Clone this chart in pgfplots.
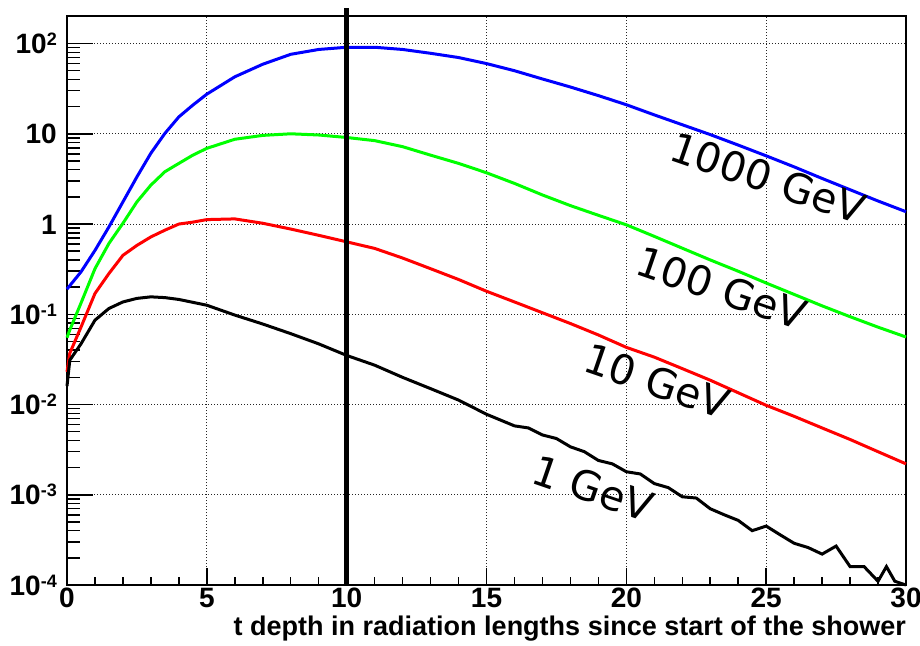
\documentclass[border=0pt]{standalone}
\usepackage{fontspec}
\setmainfont{Liberation Sans}
\newfontfamily\djv{DejaVu Sans}
\usepackage{pgfplots}
\pgfplotsset{compat=1.18}
\newcommand\tsup[1]{\raisebox{8pt}{\fontsize{18}{18}\selectfont #1}}
\definecolor{rblue}{RGB}{0,0,255}
\definecolor{rgreen}{RGB}{0,255,0}
\definecolor{rred}{RGB}{255,0,0}
\begin{document}
\begin{tikzpicture}
\begin{semilogyaxis}[
 scale only axis, width=839pt, height=569pt,
 xmin=0, xmax=30, ymin=1e-4, ymax=202,
 clip=false,
 axis line style={line width=1.5pt},
 tick pos=left,
 xtick={0,5,...,30}, xticklabels={0,5,10,15,20,25,30},
 xtick style={draw=none},
 ytick={1e-4,1e-3,1e-2,1e-1,1,10,100},
 yticklabels={10\tsup{-4},10\tsup{-3},10\tsup{-2},10\tsup{-1},1,10,10\tsup{2}},
 ytick style={black, line width=1.5pt},
 major tick length=26pt, minor tick length=13pt,
 grid=major,
 major grid style={black!85, line width=1pt, dash pattern=on 1pt off 2pt},
 ticklabel style={font=\fontsize{28}{28}\selectfont\bfseries},
 xticklabel style={anchor=north, inner sep=0pt, yshift=-3pt},
 yticklabel style={anchor=base east, inner sep=0pt, xshift=-10pt, yshift=-10pt},
 xlabel={t depth in radiation lengths since start of the shower},
 xlabel style={font=\fontsize{27}{27}\selectfont\bfseries, at={(axis description cs:1,0)}, anchor=base east, inner sep=0pt, yshift=-50pt},
]
\coordinate (BL) at (rel axis cs:0,0);
\coordinate (TR) at (rel axis cs:1,1);
% 1000 GeV
\addplot[rblue, line width=3pt] coordinates {
(0,0.19) (0.5,0.295) (1,0.51) (1.5,0.93) (2,1.76) (2.5,3.33) (3,6.1) (3.5,10.1) (4,15.4) (4.5,20.8) (5,27.5) (6,42.8) (7,59) (8,76) (9,86) (10,91) (11,91) (12,86) (13,78) (14,70) (15,60) (16,50) (17,40.5) (18,33) (19,26.5) (20,21) (21,16.2) (22,12.6) (23,9.8) (24,7.5) (25,5.7) (26,4.3) (27,3.2) (28,2.4) (29,1.8) (30,1.37)};
% 100 GeV
\addplot[rgreen, line width=3pt] coordinates {
(0,0.055) (0.1,0.067) (0.5,0.133) (1,0.32) (1.5,0.61) (2,1.02) (2.5,1.76) (3,2.7) (3.5,3.8) (4,4.7) (4.5,5.8) (5,6.9) (6,8.7) (7,9.6) (8,10.0) (9,9.7) (10,9.1) (11,8.4) (12,7.2) (13,5.8) (14,4.7) (15,3.7) (16,2.82) (17,2.1) (18,1.6) (19,1.25) (20,0.98) (21,0.73) (22,0.54) (23,0.40) (24,0.30) (25,0.222) (26,0.166) (27,0.124) (28,0.094) (29,0.072) (30,0.056)};
% 10 GeV
\addplot[rred, line width=3pt] coordinates {
(0,0.023) (0.1,0.037) (0.5,0.072) (1,0.17) (1.5,0.283) (2,0.45) (2.5,0.58) (3,0.72) (3.5,0.855) (4,1.0) (4.5,1.05) (5,1.12) (6,1.14) (7,1.02) (8,0.88) (9,0.75) (10,0.635) (11,0.537) (12,0.42) (13,0.32) (14,0.243) (15,0.18) (16,0.137) (17,0.104) (18,0.079) (19,0.059) (20,0.043) (21,0.0335) (22,0.025) (23,0.0186) (24,0.0135) (25,0.0098) (26,0.0074) (27,0.0055) (28,0.0041) (29,0.003) (30,0.0022)};
% 1 GeV
\addplot[black, line width=3pt] coordinates {
(0,0.016) (0.1,0.031) (0.5,0.047) (1,0.086) (1.5,0.116) (2,0.137) (2.5,0.15) (3,0.156) (3.5,0.153) (4,0.146) (5,0.126) (6,0.098) (7,0.078) (8,0.061) (9,0.047) (10,0.035) (11,0.0273) (12,0.020) (13,0.015) (14,0.0112) (15,0.0078) (16,0.0058) (16.5,0.0055) (17,0.0046) (17.5,0.0042) (18,0.0034) (18.5,0.0030) (19,0.0024) (19.5,0.0022) (20,0.0018) (20.5,0.0017) (21,0.00133) (21.5,0.0012) (22,0.00095) (22.5,0.00092) (23,0.0007) (23.5,0.0006) (24,0.00052) (24.5,0.00040) (25,0.00045) (25.5,0.00036) (26,0.00029) (26.5,0.00026) (27,0.00022) (27.5,0.00027) (28,0.00016) (28.5,0.00016) (29,0.00011) (29.3,0.00016) (29.6,0.00011) (30,0.0001)};
% vertical marker at t = 10
\addplot[black, line width=4.5pt] coordinates {(10,1e-4) (10,250)};
\node[rotate=-19, font=\djv\fontsize{41}{41}\selectfont] at (axis cs:25.06,3.23) {1000 GeV};
\node[rotate=-19, font=\djv\fontsize{41}{41}\selectfont] at (axis cs:23.4,0.195) {100 GeV};
\node[rotate=-19, font=\djv\fontsize{41}{41}\selectfont] at (axis cs:21.1,0.0181) {10 GeV};
\node[rotate=-19, font=\djv\fontsize{41}{41}\selectfont] at (axis cs:18.8,0.00118) {1 GeV};
\end{semilogyaxis}
% second axis: only the x tick marks, which are shorter than the y ticks
\begin{semilogyaxis}[
 scale only axis, width=839pt, height=569pt,
 xmin=0, xmax=30, ymin=1e-4, ymax=202,
 axis line style={draw=none},
 tick pos=left,
 xtick={0,5,...,30}, xticklabels={},
 minor x tick num=4,
 ytick=\empty, yminorticks=false,
 tick style={black, line width=1.5pt},
 major tick length=17pt, minor tick length=8pt,
]
\end{semilogyaxis}
\pgfresetboundingbox
\path[use as bounding box] ([shift={(-67pt,-60pt)}]BL) rectangle ([shift={(14pt,16pt)}]TR);
\end{tikzpicture}
\end{document}
